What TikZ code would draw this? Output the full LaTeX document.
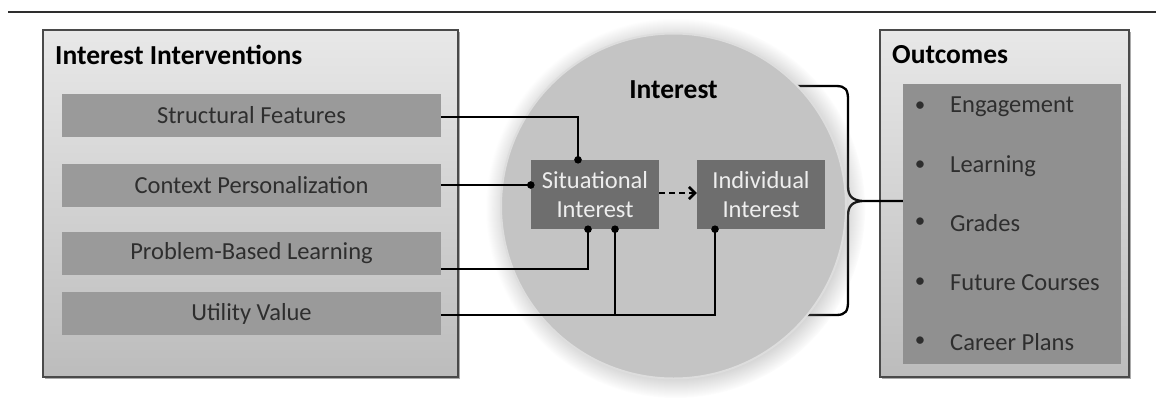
\documentclass[tikz,border=0pt]{standalone}
\usepackage{fontspec}
\setmainfont{Carlito}
\usetikzlibrary{arrows.meta,shadows}
\definecolor{outertop}{HTML}{E8E8E8}
\definecolor{outerbot}{HTML}{BCBCBC}
\definecolor{outerline}{HTML}{4A4A4A}
\definecolor{innerbox}{HTML}{9A9A9A}
\definecolor{outinner}{HTML}{909090}
\definecolor{darkbox}{HTML}{6E6E6E}
\definecolor{circfill}{HTML}{C4C4C4}
\definecolor{circrim}{HTML}{DDDDDD}
\definecolor{txtdark}{HTML}{2E2E2E}
\definecolor{txtlight}{HTML}{EEEEEE}
\newcommand\boxfont{\fontsize{24.5}{29}\selectfont}
\newcommand\titlefont{\fontsize{27.5}{32}\selectfont\bfseries}
\begin{document}
\begin{tikzpicture}[x=1pt,y=-1pt,
  outerbox/.style={draw=outerline,line width=1.5pt,top color=outertop,bottom color=outerbot,
    minimum width=#1,drop shadow={shadow xshift=1.5pt,shadow yshift=-2pt,fill=black!55,opacity=0.6},inner sep=0pt},
  ivbox/.style={fill=innerbox,minimum width=379pt,minimum height=43pt,inner sep=0pt,text=txtdark,font=\boxfont},
  intbox/.style={fill=darkbox,minimum width=128pt,minimum height=69pt,inner sep=0pt,text=txtlight,font=\boxfont,align=center},
  title/.style={anchor=west,inner sep=0pt,font=\titlefont,text=black},
  item/.style={anchor=west,inner sep=0pt,font=\boxfont,text=txtdark},
  bullet/.style={inner sep=0pt,font=\fontsize{21}{24}\selectfont,text=txtdark},
  conn/.style={line width=2.7pt,black},
  dot/.style={fill=black},
  bracestyle/.style={line width=2.3pt,black}
]
\useasboundingbox (0,0) rectangle (1156,397);
% top rule
\coordinate (ruleL) at (8,11.5);
\coordinate (ruleR) at (1156,11.5);
\draw[line width=2pt,txtdark] (ruleL) -- (ruleR);

% left box
\node[outerbox=415pt,minimum height=347pt] (ii) at (250.5,203.5) {};
\node[title] (iititle) at (55,55) {Interest Interventions};
\node[ivbox] (sf)  at (251.5,115)   {Structural Features};
\node[ivbox] (cp)  at (251.5,185)   {Context Personalization};
\node[ivbox] (pbl) at (251.5,253.5) {Problem-Based Learning};
\node[ivbox] (uv)  at (251.5,313.5) {Utility Value};

% outcomes box
\node[outerbox=249pt,minimum height=347pt] (oc) at (1004.5,203.5) {};
\node[title] (octitle) at (892,55) {Outcomes};
\node[fill=outinner,minimum width=218pt,minimum height=280pt,inner sep=0pt] (ocin) at (1012,224) {};
\foreach \y/\t/\n in {107/Engagement/a,166/Learning/b,223/Grades/c,283/Future Courses/d,342/Career Plans/e}{
  \node[bullet] (b\n) at (920,\y) {•};
  \node[item] (t\n) at (950,\y) {\t};
}

% brace (behind circle)
\coordinate (tip) at (ocin.west |- 0,201);
\coordinate (bt) at (790,86);
\coordinate (bb) at (790,315);
\draw[bracestyle,line join=round] (bt) -- (836,86) .. controls (846,86) and (848,90) .. (848,100)
  -- (848,186) .. controls (848,196) and (852,200) .. (862,201) -- (tip);
\draw[bracestyle,line join=round] (bb) -- (836,315) .. controls (846,315) and (848,311) .. (848,301)
  -- (848,216) .. controls (848,206) and (852,202) .. (862,201);

% circle
\node[circle,minimum size=345pt,inner sep=0pt,draw=circrim,line width=2pt,fill=circfill,
  circular drop shadow={shadow xshift=2pt,shadow yshift=-2pt,fill=black!50,opacity=0.45}] (circ) at (673.5,206) {};
\node[inner sep=0pt,font=\titlefont] (intlabel) at (673.5,90) {Interest};

\node[intbox] (sit) at (595,194.5) {Situational\\Interest};
\node[intbox] (ind) at (761,194.5) {Individual\\Interest};

% dashed arrow
\draw[line width=2.6pt,dash pattern=on 6pt off 4pt,-{Straight Barb[length=6pt,width=12pt,line width=2.6pt]}]
  ([yshift=1.5pt]sit.east) -- ([yshift=1.5pt]ind.west);

% connectors
\coordinate (e1) at ([xshift=-17pt]sit.north);
\coordinate (e2) at (cp.east -| sit.west);
\coordinate (e3) at ([xshift=-7pt]sit.south);
\coordinate (e4) at ([xshift=20pt]sit.south);
\coordinate (e5) at ([xshift=-46pt]ind.south);
\coordinate (j4) at (uv.east -| e4);
\draw[conn] ([yshift=-2pt]sf.east) -| (e1);
\draw[conn] (cp.east) -- (e2);
\draw[conn] ([yshift=-15.5pt]pbl.east) -| (e3);
\draw[conn] ([yshift=-1.5pt]uv.east) -| (e5);
\draw[conn] ([yshift=-1.5pt]j4) -- (e4);
\foreach \p in {e1,e2,e3,e4,e5}{\fill[dot] (\p) circle (3.8pt);}
\end{tikzpicture}
\end{document}
